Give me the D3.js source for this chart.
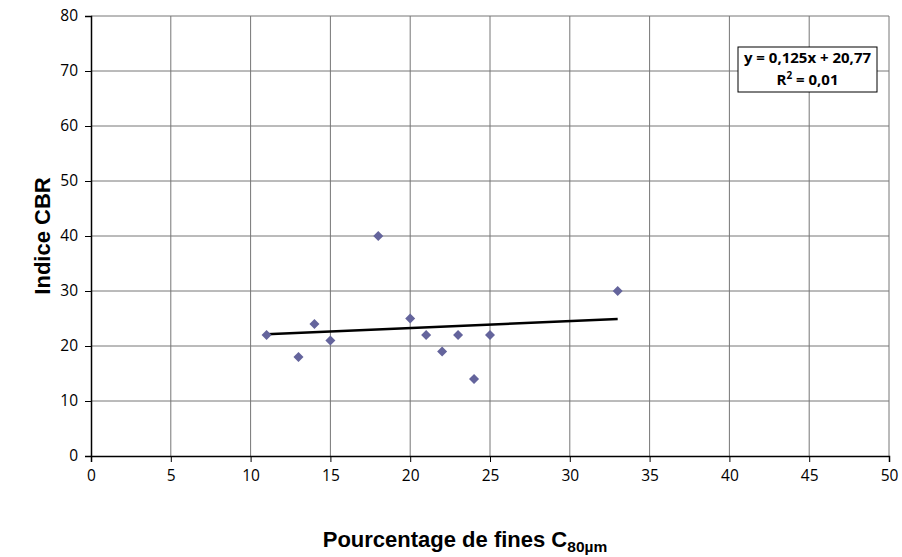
<!DOCTYPE html>
<html>
<head>
<meta charset="utf-8">
<script src="https://cdn.jsdelivr.net/npm/d3@7"></script>
<style>
  body { margin: 0; background: #fff; }
  .tick text { font-family: "Open Sans", "Noto Sans", sans-serif; font-size: 15.5px; fill: #000; }
</style>
</head>
<body>
<div id="chart"></div>
<script>
// data
var fines = [11, 13, 14, 15, 18, 20, 21, 22, 23, 24, 25, 33];
var cbr   = [22, 18, 24, 21, 40, 25, 22, 19, 22, 14, 22, 30];
var xTicks = [0, 5, 10, 15, 20, 25, 30, 35, 40, 45, 50];
var yTicks = [0, 10, 20, 30, 40, 50, 60, 70, 80];
var slope = 0.125, intercept = 20.77, r2 = "0,01";

var W = 902, H = 557;
var margin = {top: 16, right: 13, bottom: 101, left: 91},
    width = W - margin.left - margin.right,
    height = H - margin.top - margin.bottom;

var svg = d3.select("#chart").append("svg")
    .attr("width", W)
    .attr("height", H);
var g = svg.append("g")
    .attr("transform", "translate(" + margin.left + "," + margin.top + ")");

var x = d3.scaleLinear().domain([0, 50]).range([0, width]);
var y = d3.scaleLinear().domain([0, 80]).range([height, 0]);

// grid
g.selectAll(".vgrid").data(xTicks.slice(1)).enter().append("line")
    .attr("x1", d => x(d)).attr("x2", d => x(d))
    .attr("y1", 0).attr("y2", height)
    .attr("stroke", "#767676").attr("stroke-width", 1);
g.selectAll(".hgrid").data(yTicks.slice(1)).enter().append("line")
    .attr("x1", 0).attr("x2", width)
    .attr("y1", d => y(d)).attr("y2", d => y(d))
    .attr("stroke", "#767676").attr("stroke-width", 1);

// axes
var xAxis = g.append("g")
    .attr("transform", "translate(0," + height + ")")
    .call(d3.axisBottom(x).tickValues(xTicks).tickSize(6).tickPadding(8).tickFormat(d3.format("d")));
var yAxis = g.append("g")
    .call(d3.axisLeft(y).tickValues(yTicks).tickSize(6).tickPadding(7).tickFormat(d3.format("d")));
[xAxis, yAxis].forEach(function (a) {
    a.select(".domain").attr("stroke", "#000").attr("stroke-width", 1.5);
    a.selectAll(".tick line").attr("stroke", "#000");
});

// trend line
var xr = d3.extent(fines);
g.append("line")
    .attr("x1", x(xr[0])).attr("y1", y(slope * xr[0] + intercept))
    .attr("x2", x(xr[1])).attr("y2", y(slope * xr[1] + intercept))
    .attr("stroke", "#000").attr("stroke-width", 2.5);

// points
g.selectAll(".pt").data(fines).enter().append("path")
    .attr("d", d3.symbol().type(d3.symbolDiamond2).size(64))
    .attr("transform", (d, i) => "translate(" + x(d) + "," + y(cbr[i]) + ")")
    .attr("fill", "#64649c");

// equation box
var box = svg.append("g").attr("transform", "translate(738,47)");
box.append("rect")
    .attr("width", 139).attr("height", 45)
    .attr("fill", "#fff").attr("stroke", "#000").attr("stroke-width", 1);
box.append("text")
    .attr("x", 69.5).attr("y", 16)
    .attr("text-anchor", "middle")
    .style("font-family", "'Open Sans', sans-serif")
    .style("font-weight", "bold").style("font-size", "15px")
    .text("y = " + String(slope).replace(".", ",") + "x + " + String(intercept).replace(".", ","));
var rt = box.append("text")
    .attr("x", 69.5).attr("y", 38)
    .attr("text-anchor", "middle")
    .style("font-family", "'Open Sans', sans-serif")
    .style("font-weight", "bold").style("font-size", "15px");
rt.append("tspan").text("R");
rt.append("tspan").attr("dy", -6).style("font-size", "10px").text("2");
rt.append("tspan").attr("dy", 6).text(" = " + r2);

// axis titles
svg.append("text")
    .attr("transform", "translate(50," + (margin.top + height / 2) + ") rotate(-90)")
    .attr("text-anchor", "middle")
    .style("font-family", "'Liberation Sans', Arial, sans-serif")
    .style("font-weight", "bold").style("font-size", "22px")
    .text("Indice CBR");

var xt = svg.append("text")
    .attr("x", 465).attr("y", 547)
    .attr("text-anchor", "middle")
    .style("font-family", "'Liberation Sans', Arial, sans-serif")
    .style("font-weight", "bold").style("font-size", "22px");
xt.append("tspan").text("Pourcentage de fines C");
xt.append("tspan").attr("dy", 5).style("font-size", "15.5px").text("80µm");
</script>
</body>
</html>
